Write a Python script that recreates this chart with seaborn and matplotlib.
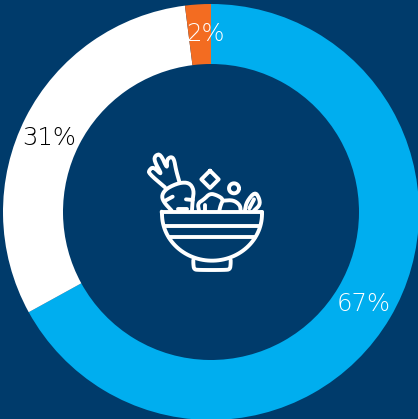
import numpy as np
import matplotlib
matplotlib.use('Agg')
import matplotlib.pyplot as plt
import seaborn as sns

# Chart values
values = [67, 31, 2]
slice_colors = ['#00AEEF', '#FFFFFF', '#F36C21']
label_colors = ['#FFFFFF', '#000000', '#FFFFFF']

sns.set_theme(style='white')
plt.rcParams['font.family'] = ['DejaVu Sans']

background = '#003B6B'
W, H = 418, 419

fig = plt.figure(figsize=(W / 100, H / 100), dpi=100, facecolor=background)
ax = fig.add_axes([0, 0, 1, 1])
ax.set_facecolor(background)

wedges, _, autotexts = ax.pie(
    values, colors=sns.color_palette(slice_colors), startangle=90, counterclock=False,
    center=(211, H - 212), radius=208, wedgeprops=dict(width=60, linewidth=0),
    autopct='%d%%', pctdistance=0.856, frame=True,
)
ax.set_xlim(0, W)
ax.set_ylim(0, H)
ax.set_aspect('equal')
ax.axis('off')

# labels sit a little off the slice middles in the original
offsets = [(-1, -1), (-3, -7), (6, 0)]
for txt, col, (dx, dy) in zip(autotexts, label_colors, offsets):
    x, y = txt.get_position()
    txt.set_position((x + dx, y + dy))
    txt.set_color(col)
    txt.set_fontsize(17.5)
    txt.set_fontweight(200)


# The salad bowl icon, traced on a 3x crop whose corner is at (130, 140)
def to_ax(pts):
    pts = np.asarray(pts, dtype=float)
    return 130 + pts[:, 0] / 3, H - (140 + pts[:, 1] / 3)


def smooth(pts, rounds=2):
    pts = np.asarray(pts, dtype=float)
    for _ in range(rounds):
        a = pts[:-1] * 0.75 + pts[1:] * 0.25
        b = pts[:-1] * 0.25 + pts[1:] * 0.75
        pts = np.vstack([pts[:1], np.column_stack([a, b]).reshape(-1, 2), pts[-1:]])
    return pts


def stroke(pts, round_it=True):
    if round_it:
        pts = smooth(pts)
    x, y = to_ax(pts)
    ax.plot(x, y, color='white', lw=2.8, solid_capstyle='round', solid_joinstyle='round')


# bowl
stroke([(97, 215), (395, 215)], False)
t = np.linspace(np.pi, 0, 60)
bowl = np.column_stack([246 + 150 * np.cos(t), 222 + 140 * np.sin(t)])
stroke(bowl, False)
stroke([(95, 215), (96, 222)], False)
stroke([(396, 215), (396, 222)], False)
stroke([(105, 258), (388, 258)], False)
stroke([(118, 292), (376, 292)], False)
stroke([(190, 360), (190, 372), (192, 388), (205, 390), (285, 390), (300, 388), (302, 372), (302, 360)])

# carrot leaves and root
stroke([(105, 142), (56, 100), (58, 90), (70, 80), (98, 108), (72, 62), (76, 46), (92, 42), (112, 88),
        (110, 60), (122, 50), (132, 56), (138, 90), (148, 125)])
stroke([(125, 212), (100, 185), (95, 165), (110, 145), (148, 128), (178, 128), (192, 150), (188, 180), (186, 210)])
stroke([(106, 182), (128, 170)], False)
stroke([(168, 178), (188, 180)], False)
stroke([(145, 208), (172, 208)], False)

# diamond and small circle
stroke([(240, 92), (266, 118), (240, 144), (214, 118), (240, 92)], False)
t = np.linspace(0, 2 * np.pi, 40)
stroke(np.column_stack([312 + 15 * np.cos(t), 145 + 15 * np.sin(t)]), False)

# leafy greens
stroke([(207, 212), (203, 190), (222, 178), (240, 160), (262, 166), (280, 178), (272, 195), (268, 212)])
stroke([(226, 195), (226, 212)], False)
stroke([(280, 182), (310, 180), (330, 195), (332, 212)])

# right hand leaf
stroke([(345, 210), (350, 185), (375, 155), (388, 175), (390, 195), (372, 212)])
stroke([(358, 205), (372, 178)], False)

fig.savefig('out.png', dpi=100, facecolor=background)
